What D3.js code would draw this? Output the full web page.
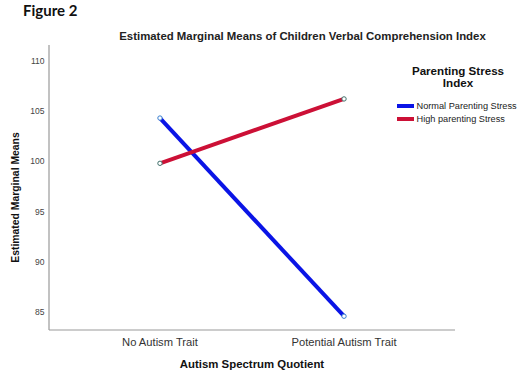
<!DOCTYPE html>
<html><head><meta charset="utf-8">
<script src="https://cdn.jsdelivr.net/npm/d3@7"></script>
<style>body{margin:0;background:#fff}svg{display:block}</style>
</head><body>
<script>
const categories = ["No Autism Trait", "Potential Autism Trait"];
const seriesNames = ["Normal Parenting Stress", "High parenting Stress"];
const normalValues = [104.3, 84.6];
const highValues = [99.8, 106.2];
const yTicks = [85, 90, 95, 100, 105, 110];
const seriesColors = ["#0a14e6", "#cc1036"];
const markerStrokes = ["#3a7fd0", "#3f6f6a"];

const W = 520, H = 373;
const FONT = "'Liberation Sans', Arial, sans-serif";
const svg = d3.select("body").append("svg").attr("width", W).attr("height", H);

const x = d3.scalePoint().domain(categories).range([49, 455]).padding(0.603);
const y = d3.scaleLinear().domain([100, 105]).range([161.3, 111]);

// Figure label
svg.append("text").attr("x", 23).attr("y", 16).attr("font-family", "Lato, 'Open Sans', sans-serif")
  .attr("font-weight", "bold").attr("font-size", 15).attr("fill", "#111").text("Figure 2");

// Title
svg.append("text").attr("x", 302.5).attr("y", 39.5).attr("text-anchor", "middle")
  .attr("font-family", FONT).attr("font-weight", "bold")
  .attr("font-size", 11.4).attr("fill", "#222").text("Estimated Marginal Means of Children Verbal Comprehension Index");

// Axes lines
svg.append("line").attr("x1", 49).attr("x2", 49).attr("y1", 45).attr("y2", 330).attr("stroke", "#999").attr("stroke-width", 1.2);
svg.append("line").attr("x1", 49).attr("x2", 455).attr("y1", 330).attr("y2", 330).attr("stroke", "#999").attr("stroke-width", 1.2);

// Y tick labels
svg.selectAll(".yt").data(yTicks).enter().append("text")
  .attr("x", 44.5).attr("y", d => y(d) + 3).attr("text-anchor", "end")
  .attr("font-family", FONT).attr("font-size", 8.5).attr("fill", "#444")
  .text(d => d);

// X category labels
svg.selectAll(".xt").data(categories).enter().append("text")
  .attr("x", d => x(d)).attr("y", 345.5).attr("text-anchor", "middle")
  .attr("font-family", FONT).attr("font-size", 11.2).attr("fill", "#333")
  .text(d => d);

// Axis titles
svg.append("text").attr("x", 252).attr("y", 368).attr("text-anchor", "middle")
  .attr("font-family", FONT).attr("font-weight", "bold").attr("font-size", 11.4)
  .attr("fill", "#111").text("Autism Spectrum Quotient");
svg.append("text").attr("transform", "translate(19,197.5) rotate(-90)").attr("text-anchor", "middle")
  .attr("font-family", FONT).attr("font-weight", "bold").attr("font-size", 10.4)
  .attr("fill", "#111").text("Estimated Marginal Means");

// Lines
const series = [normalValues, highValues];
const line = d3.line().x((d, i) => x(categories[i])).y(d => y(d));
series.forEach((vals, s) => {
  svg.append("path").attr("d", line(vals)).attr("fill", "none")
    .attr("stroke", seriesColors[s]).attr("stroke-width", 4);
});
series.forEach((vals, s) => {
  svg.selectAll(".pt" + s).data(vals).enter().append("circle")
    .attr("cx", (d, i) => x(categories[i])).attr("cy", d => y(d)).attr("r", 2.2)
    .attr("fill", "#fff").attr("stroke", markerStrokes[s]).attr("stroke-width", 1);
});

// Legend
const lg = svg.append("g");
lg.append("text").attr("x", 458).attr("y", 74.5).attr("text-anchor", "middle")
  .attr("font-family", FONT).attr("font-weight", "bold").attr("font-size", 11.6)
  .attr("fill", "#111").text("Parenting Stress");
lg.append("text").attr("x", 458).attr("y", 86.5).attr("text-anchor", "middle")
  .attr("font-family", FONT).attr("font-weight", "bold").attr("font-size", 11.6)
  .attr("fill", "#111").text("Index");
seriesNames.forEach((n, i) => {
  const yy = 106 + i * 13;
  lg.append("line").attr("x1", 397).attr("x2", 414).attr("y1", yy).attr("y2", yy)
    .attr("stroke", seriesColors[i]).attr("stroke-width", 4);
  lg.append("text").attr("x", 416.5).attr("y", yy + 3.3).attr("font-family", FONT)
    .attr("font-size", 9.2).attr("fill", "#222").text(n);
});
</script>
</body></html>
